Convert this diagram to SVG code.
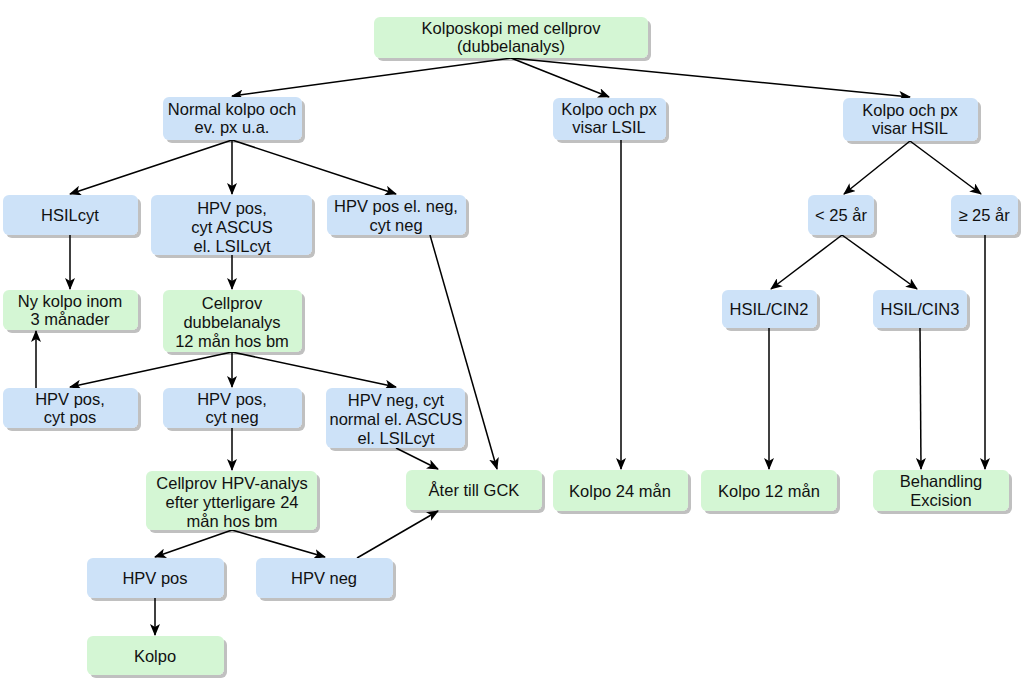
<svg xmlns="http://www.w3.org/2000/svg" width="1024" height="682" viewBox="0 0 1024 682">
<defs>
<filter id="sh" x="-10%" y="-10%" width="130%" height="140%">
<feOffset in="SourceAlpha" dx="3" dy="3" result="o"/>
<feComponentTransfer in="o" result="s"><feFuncA type="linear" slope="0.25"/></feComponentTransfer>
<feMerge><feMergeNode in="s"/><feMergeNode in="SourceGraphic"/></feMerge>
</filter>
<marker id="ar" viewBox="0 0 12 10" refX="11" refY="5" markerWidth="12" markerHeight="10" markerUnits="userSpaceOnUse" orient="auto">
<path d="M0,0 L12,5 L0,10 L3,5 Z" fill="#000"/>
</marker>
</defs>
<style>
.b rect{fill:#cde2f8;filter:url(#sh)}
.g rect{fill:#d4f6d4;filter:url(#sh)}
text{font-family:"Liberation Sans",Arial,sans-serif;font-size:16.5px;fill:#111;text-anchor:middle}
#edges line{stroke:#000;stroke-width:1.5;marker-end:url(#ar)}
</style>
<rect width="1024" height="682" fill="#fff"/>
<g id="edges">
<line x1="511" y1="58" x2="232" y2="96"/>
<line x1="511" y1="58" x2="609" y2="97"/>
<line x1="511" y1="58" x2="910" y2="97"/>
<line x1="232" y1="140" x2="70" y2="194"/>
<line x1="232" y1="140" x2="232" y2="194"/>
<line x1="232" y1="140" x2="396" y2="194"/>
<line x1="70" y1="235" x2="70" y2="289"/>
<line x1="232" y1="255" x2="232" y2="289"/>
<line x1="232" y1="352" x2="70" y2="387"/>
<line x1="232" y1="352" x2="232" y2="387"/>
<line x1="232" y1="352" x2="396" y2="387"/>
<line x1="36" y1="388" x2="36" y2="331"/>
<line x1="232" y1="428" x2="232" y2="470"/>
<line x1="396" y1="448" x2="438" y2="469"/>
<line x1="430" y1="235" x2="497" y2="469"/>
<line x1="357" y1="558" x2="438" y2="511"/>
<line x1="232" y1="530" x2="155" y2="557"/>
<line x1="232" y1="530" x2="325" y2="557"/>
<line x1="155" y1="598" x2="155" y2="635"/>
<line x1="621" y1="140" x2="621" y2="469"/>
<line x1="910" y1="141" x2="844" y2="194"/>
<line x1="910" y1="141" x2="981" y2="194"/>
<line x1="842" y1="235" x2="771" y2="289"/>
<line x1="842" y1="235" x2="917" y2="289"/>
<line x1="769" y1="328" x2="769" y2="469"/>
<line x1="920" y1="328" x2="921" y2="469"/>
<line x1="985" y1="235" x2="985" y2="469"/>
</g>
<g id="n1" class="g"><rect x="374" y="17" width="274" height="41" rx="6"/><text x="511" y="34">Kolposkopi med cellprov</text><text x="511" y="52">(dubbelanalys)</text></g>
<g id="n2" class="b"><rect x="163" y="97" width="139" height="43" rx="6"/><text x="232" y="115">Normal kolpo och</text><text x="232" y="133">ev. px u.a.</text></g>
<g id="n3" class="b"><rect x="553" y="98" width="113" height="42" rx="6"/><text x="609" y="115">Kolpo och px</text><text x="609" y="133">visar LSIL</text></g>
<g id="n4" class="b"><rect x="843" y="98" width="135" height="43" rx="6"/><text x="910" y="116">Kolpo och px</text><text x="910" y="134">visar HSIL</text></g>
<g id="n5" class="b"><rect x="3" y="195" width="135" height="40" rx="6"/><text x="70" y="221">HSILcyt</text></g>
<g id="n6" class="b"><rect x="151" y="195" width="161" height="60" rx="6"/><text x="232" y="214">HPV pos,</text><text x="232" y="233">cyt ASCUS</text><text x="232" y="252">el. LSILcyt</text></g>
<g id="n7" class="b"><rect x="327" y="195" width="139" height="40" rx="6"/><text x="396" y="212">HPV pos el. neg,</text><text x="396" y="231">cyt neg</text></g>
<g id="n8" class="b"><rect x="808" y="195" width="66" height="40" rx="6"/><text x="841" y="221">&lt; 25 år</text></g>
<g id="n9" class="b"><rect x="951" y="195" width="67" height="40" rx="6"/><text x="984" y="221">≥ 25 år</text></g>
<g id="n10" class="g"><rect x="3" y="290" width="135" height="40" rx="6"/><text x="70" y="307">Ny kolpo inom</text><text x="70" y="325">3 månader</text></g>
<g id="n11" class="g"><rect x="163" y="290" width="139" height="62" rx="6"/><text x="232" y="309">Cellprov</text><text x="232" y="328">dubbelanalys</text><text x="232" y="347">12 mån hos bm</text></g>
<g id="n12" class="b"><rect x="722" y="290" width="95" height="38" rx="6"/><text x="769" y="315">HSIL/CIN2</text></g>
<g id="n13" class="b"><rect x="873" y="290" width="94" height="38" rx="6"/><text x="920" y="315">HSIL/CIN3</text></g>
<g id="n14" class="b"><rect x="3" y="388" width="135" height="40" rx="6"/><text x="70" y="405">HPV pos,</text><text x="70" y="423">cyt pos</text></g>
<g id="n15" class="b"><rect x="163" y="388" width="139" height="40" rx="6"/><text x="232" y="405">HPV pos,</text><text x="232" y="423">cyt neg</text></g>
<g id="n16" class="b"><rect x="326" y="388" width="139" height="60" rx="6"/><text x="396" y="406">HPV neg, cyt</text><text x="396" y="425">normal el. ASCUS</text><text x="396" y="444">el. LSILcyt</text></g>
<g id="n17" class="g"><rect x="146" y="471" width="171" height="59" rx="6"/><text x="232" y="489">Cellprov HPV-analys</text><text x="232" y="508">efter ytterligare 24</text><text x="232" y="527">mån hos bm</text></g>
<g id="n18" class="g"><rect x="406" y="470" width="136" height="40" rx="6"/><text x="474" y="496">Åter till GCK</text></g>
<g id="n19" class="g"><rect x="553" y="470" width="135" height="41" rx="6"/><text x="620" y="497">Kolpo 24 mån</text></g>
<g id="n20" class="g"><rect x="701" y="470" width="136" height="41" rx="6"/><text x="769" y="497">Kolpo 12 mån</text></g>
<g id="n21" class="g"><rect x="873" y="470" width="136" height="41" rx="6"/><text x="941" y="487">Behandling</text><text x="941" y="506">Excision</text></g>
<g id="n22" class="b"><rect x="87" y="558" width="137" height="40" rx="6"/><text x="155" y="584">HPV pos</text></g>
<g id="n23" class="b"><rect x="256" y="558" width="137" height="40" rx="6"/><text x="324" y="584">HPV neg</text></g>
<g id="n24" class="g"><rect x="87" y="636" width="137" height="39" rx="6"/><text x="155" y="662">Kolpo</text></g>
</svg>
